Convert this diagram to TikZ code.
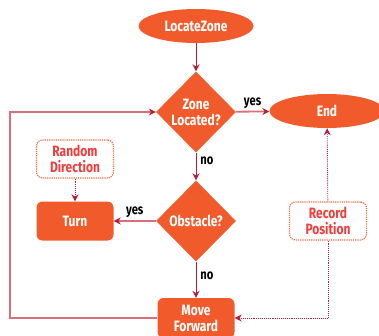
\documentclass[tikz,border=0pt]{standalone}
\usepackage{fontspec}
\setmainfont[FakeStretch=0.8]{Fira Sans}
\usetikzlibrary{shapes.geometric,arrows.meta}
\definecolor{fillor}{HTML}{F15A2B}
\definecolor{crim}{HTML}{B51F3C}
\definecolor{pinkl}{HTML}{D8707C}
\definecolor{redtxt}{HTML}{EE3D3A}
\begin{document}
\begin{tikzpicture}[x=1pt,y=-1pt,
  every node/.style={font=\fontsize{15}{16}\selectfont\bfseries, align=center, inner sep=0pt},
  term/.style={ellipse, fill=fillor, text=white, minimum width=115pt, minimum height=34pt},
  dec/.style={diamond, fill=fillor, text=white, minimum width=80pt, minimum height=81pt},
  act/.style={rectangle, rounded corners=6pt, fill=fillor, text=white, minimum width=77pt, minimum height=39pt},
  note/.style={rectangle, rounded corners=6pt, draw=fillor!90!white, densely dotted, line width=1.2pt, text=redtxt, minimum width=77pt, minimum height=38pt},
  lbl/.style={font=\fontsize{14}{14}\selectfont\bfseries, text=black},
  thin/.style={draw=crim, line width=0.9pt, -{Stealth[length=7pt,width=7pt]}},
  thick/.style={draw=pinkl, line width=1.8pt, -{Stealth[length=7pt,width=7pt,color=crim]}},
  dots/.style={draw=crim, line width=0.9pt, densely dotted, -{Stealth[length=7pt,width=7pt,color=crim]}}
]
\useasboundingbox (0,0) rectangle (379,335);
\node[term] (start) at (196,26) {LocateZone};
\node[dec] (d1) at (196,112) {Zone\\Located?};
\node[term] (end) at (327,111) {End};
\node[note] (rd) at (75,159) {Random\\Direction};
\node[act] (turn) at (75,221) {Turn};
\node[dec] (d2) at (196,221) {Obstacle?};
\node[act, minimum height=40pt] (mf) at (196,318) {Move\\Forward};
\node[note] (rp) at (328,221) {Record\\Position};
\coordinate (lc) at (10,318);

\draw[thin] (start) -- (d1);
\draw[thick] (d1) -- (end) node[lbl, midway, above=2pt] {yes};
\draw[thin] (d1) -- (d2) node[lbl, pos=0.3, right=4pt] {no};
\draw[thick] (d2) -- (turn) node[lbl, midway, above=2pt] {yes};
\draw[thin] (d2) -- (mf) node[lbl, pos=0.4, right=4pt] {no};
\draw[dots] (rd) -- (turn);
\draw[dots] (rp) -- (end);
\draw[dots] (rp.south) |- (mf.east);
\draw[thick] (mf.west) -- (lc) |- (d1.west);
\end{tikzpicture}
\end{document}
